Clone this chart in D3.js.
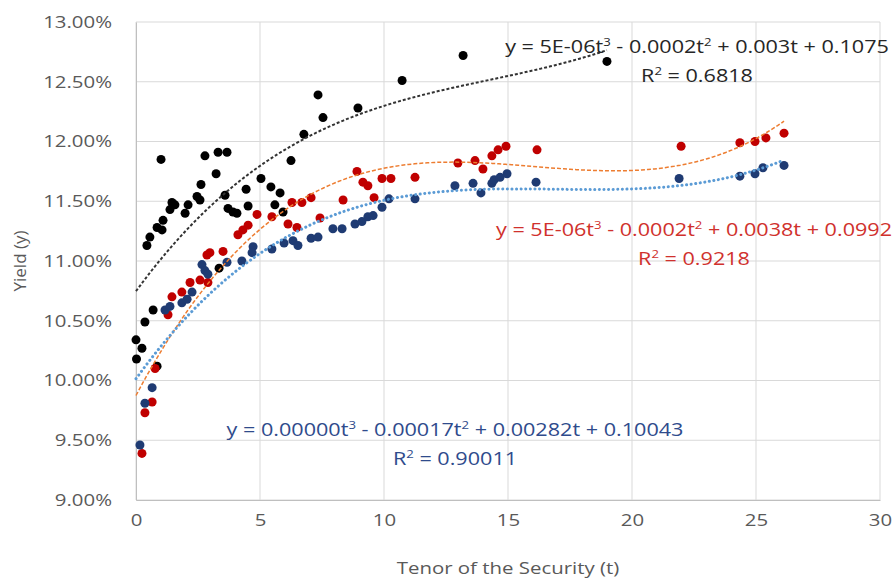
<!DOCTYPE html>
<html>
<head>
<meta charset="utf-8">
<script src="https://cdn.jsdelivr.net/npm/d3@7"></script>
<style>
  body { margin: 0; background: #fff; }
  svg { display: block; font-family: "Open Sans", sans-serif; }
</style>
</head>
<body>
<div id="chart"></div>
<script>
// tenor (years) and yield (%)
var blackT = [0.0, 0.02, 0.24, 0.36, 0.69, 0.85, 0.44, 0.56, 0.85, 1.05, 1.09, 1.01, 1.37, 1.45, 1.57, 1.98, 2.10, 2.46, 2.58, 2.62, 2.78, 3.23, 3.31, 3.67, 3.59, 3.71, 3.91, 4.07, 4.44, 4.52, 5.04, 5.44, 5.81, 5.60, 5.93, 6.25, 6.77, 7.54, 7.34, 8.95, 10.73, 13.19, 18.99, 3.35];
var blackY = [10.34, 10.18, 10.27, 10.49, 10.59, 10.12, 11.13, 11.20, 11.28, 11.26, 11.34, 11.85, 11.43, 11.49, 11.47, 11.40, 11.47, 11.54, 11.51, 11.64, 11.88, 11.73, 11.91, 11.91, 11.55, 11.44, 11.41, 11.40, 11.60, 11.46, 11.69, 11.62, 11.57, 11.47, 11.41, 11.84, 12.06, 12.20, 12.39, 12.28, 12.51, 12.72, 12.67, 10.94];

var redT = [0.24, 0.36, 0.65, 0.77, 1.29, 1.45, 1.85, 2.18, 2.58, 2.90, 2.86, 2.98, 3.51, 4.11, 4.31, 4.52, 4.88, 5.48, 6.13, 6.49, 6.29, 6.69, 7.06, 7.42, 8.35, 8.91, 9.15, 9.35, 9.60, 9.92, 10.28, 11.25, 12.98, 13.67, 13.99, 14.35, 14.60, 14.92, 16.17, 21.98, 24.35, 24.96, 25.40, 26.13];
var redY = [9.39, 9.73, 9.82, 10.10, 10.55, 10.70, 10.74, 10.82, 10.84, 10.82, 11.05, 11.07, 11.08, 11.22, 11.26, 11.30, 11.39, 11.37, 11.31, 11.28, 11.49, 11.49, 11.53, 11.36, 11.51, 11.75, 11.66, 11.63, 11.53, 11.69, 11.69, 11.70, 11.82, 11.84, 11.77, 11.88, 11.93, 11.96, 11.93, 11.96, 11.99, 12.00, 12.03, 12.07];

var blueT = [0.16, 0.36, 0.65, 1.17, 1.37, 1.85, 2.06, 2.26, 2.66, 2.78, 2.90, 3.67, 4.27, 4.72, 4.68, 5.48, 5.97, 6.33, 6.53, 7.06, 7.34, 7.94, 8.31, 8.83, 9.11, 9.35, 9.56, 9.92, 10.20, 11.25, 12.86, 13.59, 13.91, 14.35, 14.44, 14.68, 14.96, 16.13, 21.90, 24.35, 24.96, 25.28, 26.13];
var blueY = [9.46, 9.81, 9.94, 10.59, 10.62, 10.65, 10.68, 10.74, 10.97, 10.92, 10.89, 10.99, 11.00, 11.12, 11.07, 11.10, 11.15, 11.17, 11.13, 11.19, 11.20, 11.27, 11.27, 11.31, 11.33, 11.37, 11.38, 11.45, 11.52, 11.52, 11.63, 11.65, 11.57, 11.65, 11.68, 11.70, 11.73, 11.66, 11.69, 11.71, 11.73, 11.78, 11.80];

var xTicks = [0, 5, 10, 15, 20, 25, 30];
var yTicks = [9, 9.5, 10, 10.5, 11, 11.5, 12, 12.5, 13];

var width = 893, height = 582;
var margin = {top: 22, right: 13, bottom: 82, left: 136};
var stretch = 1.2; // the source picture is wider than tall

var svg = d3.select('#chart')
	.append('svg')
	.attr('width', width)
	.attr('height', height);

var x = d3.scaleLinear().domain([0, 30]).range([margin.left, width - margin.right]);
var y = d3.scaleLinear().domain([9, 13]).range([height - margin.bottom, margin.top]);

//gridlines
svg.append('g')
	.selectAll('line')
	.data(yTicks)
	.enter()
	.append('line')
	.attr('x1', margin.left)
	.attr('x2', width - margin.right)
	.attr('y1', function (d) { return y(d); })
	.attr('y2', function (d) { return y(d); })
	.attr('stroke', '#d9d9d9');

svg.append('g')
	.selectAll('line')
	.data(xTicks)
	.enter()
	.append('line')
	.attr('x1', function (d) { return x(d); })
	.attr('x2', function (d) { return x(d); })
	.attr('y1', margin.top)
	.attr('y2', height - margin.bottom)
	.attr('stroke', '#d9d9d9');

//axes
var xAxis = svg.append('g')
	.attr('transform', 'translate(0,' + (height - margin.bottom) + ')')
	.call(d3.axisBottom(x).tickValues(xTicks).tickSize(0).tickPadding(14));
var yAxis = svg.append('g')
	.attr('transform', 'translate(' + margin.left + ',0)')
	.call(d3.axisLeft(y).tickValues(yTicks).tickSize(0).tickPadding(20)
		.tickFormat(function (d) { return d.toFixed(2) + '%'; }));

[xAxis, yAxis].forEach(function (a) {
	a.select('.domain').attr('stroke', '#bfbfbf');
	a.selectAll('text')
		.attr('fill', '#595959')
		.attr('transform', 'scale(' + stretch + ',1)')
		.style('font-size', '17px')
		.style('font-family', '"Open Sans", sans-serif');
});

svg.append('text')
	.attr('transform', 'translate(' + ((margin.left + width - margin.right) / 2) + ',574) scale(' + stretch + ',1)')
	.attr('text-anchor', 'middle')
	.attr('fill', '#595959')
	.style('font-size', '17px')
	.text('Tenor of the Security (t)');

svg.append('text')
	.attr('transform', 'translate(26,' + y(11) + ') rotate(-90)')
	.attr('text-anchor', 'middle')
	.attr('fill', '#595959')
	.style('font-size', '17px')
	.text('Yield (y)');

//cubic least squares fit
function fitCubic(ts, ys) {
	var n = 4, A = [], b = [];
	for (var i = 0; i < n; i++) {
		A.push([0, 0, 0, 0]);
		b.push(0);
	}
	ts.forEach(function (t, k) {
		for (var i = 0; i < n; i++) {
			for (var j = 0; j < n; j++) A[i][j] += Math.pow(t, i + j);
			b[i] += Math.pow(t, i) * ys[k];
		}
	});
	for (var c = 0; c < n; c++) {
		var p = c;
		for (var r = c + 1; r < n; r++) if (Math.abs(A[r][c]) > Math.abs(A[p][c])) p = r;
		var tmp = A[c]; A[c] = A[p]; A[p] = tmp;
		var tb = b[c]; b[c] = b[p]; b[p] = tb;
		for (var r2 = c + 1; r2 < n; r2++) {
			var f = A[r2][c] / A[c][c];
			for (var j2 = c; j2 < n; j2++) A[r2][j2] -= f * A[c][j2];
			b[r2] -= f * b[c];
		}
	}
	var coef = [0, 0, 0, 0];
	for (var i2 = n - 1; i2 >= 0; i2--) {
		var s = b[i2];
		for (var j3 = i2 + 1; j3 < n; j3++) s -= A[i2][j3] * coef[j3];
		coef[i2] = s / A[i2][i2];
	}
	return function (t) { return coef[0] + coef[1] * t + coef[2] * t * t + coef[3] * t * t * t; };
}

var series = [
	{t: blackT, y: blackY, color: '#000000', line: '#333333', dash: '3,2', lw: 2, cap: 'butt'},
	{t: redT, y: redY, color: '#c00000', line: '#ed7d31', dash: '4,2', lw: 1.5, cap: 'butt'},
	{t: blueT, y: blueY, color: '#1f3b73', line: '#5b9bd5', dash: '0.1,4.5', lw: 3, cap: 'round'}
];

//points
series.forEach(function (s) {
	svg.append('g')
		.selectAll('circle')
		.data(s.t)
		.enter()
		.append('circle')
		.attr('cx', function (d) { return x(d); })
		.attr('cy', function (d, i) { return y(s.y[i]); })
		.attr('r', 4.5)
		.attr('fill', s.color);
});

//trendlines
series.forEach(function (s) {
	var f = fitCubic(s.t, s.y);
	var tMax = d3.max(s.t);
	var pts = d3.range(0, 101).map(function (i) { return tMax * i / 100; });
	var line = d3.line()
		.x(function (d) { return x(d); })
		.y(function (d) { return y(f(d)); });
	svg.append('path')
		.datum(pts)
		.attr('d', line)
		.attr('fill', 'none')
		.attr('stroke', s.line)
		.attr('stroke-width', s.lw)
		.attr('stroke-dasharray', s.dash)
		.attr('stroke-linecap', s.cap);
});

//equation labels
var labels = [
	{eq: ['y = 5E-06t', '3', ' - 0.0002t', '2', ' + 0.003t + 0.1075'], r2: '0.6818', cx: 697, cy: 53, color: '#262626'},
	{eq: ['y = 5E-06t', '3', ' - 0.0002t', '2', ' + 0.0038t + 0.0992'], r2: '0.9218', cx: 694, cy: 236, color: '#d0312d'},
	{eq: ['y = 0.00000t', '3', ' - 0.00017t', '2', ' + 0.00282t + 0.10043'], r2: '0.90011', cx: 455, cy: 436, color: '#2f4b8c'}
];

labels.forEach(function (l) {
	var g = svg.append('g')
		.attr('transform', 'translate(' + l.cx + ',' + l.cy + ') scale(' + stretch + ',1)')
		.attr('fill', l.color)
		.attr('text-anchor', 'middle')
		.style('font-size', '18px');
	var t1 = g.append('text');
	l.eq.forEach(function (part, i) {
		if (i % 2 === 1) {
			t1.append('tspan').attr('dy', -7).style('font-size', '11px').text(part);
		} else {
			t1.append('tspan').attr('dy', i === 0 ? 0 : 7).text(part);
		}
	});
	var t2 = g.append('text').attr('y', 29);
	t2.append('tspan').text('R');
	t2.append('tspan').attr('dy', -7).style('font-size', '11px').text('2');
	t2.append('tspan').attr('dy', 7).text(' = ' + l.r2);
});
</script>
</body>
</html>
